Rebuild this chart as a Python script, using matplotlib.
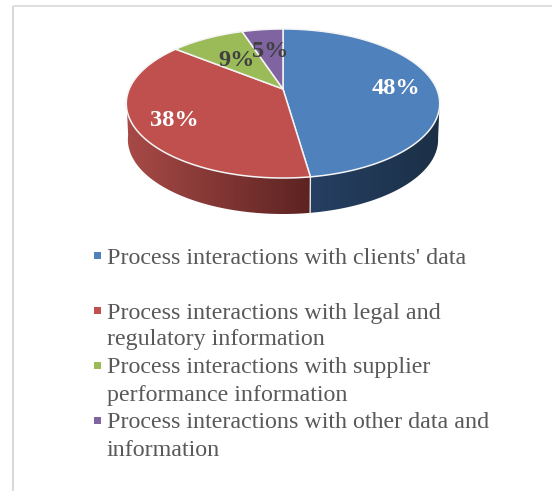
import numpy as np
import matplotlib
matplotlib.use("Agg")
import matplotlib.pyplot as plt
from matplotlib.colors import to_rgb
from matplotlib.patches import Polygon, Rectangle

categories = ["Process interactions with clients' data",
              "Process interactions with legal and\nregulatory information",
              "Process interactions with supplier\nperformance information",
              "Process interactions with other data and\ninformation"]
values = [47.7, 38.0, 9.2, 5.1]
top_colors = ["#4F81BD", "#C0504D", "#9BBB59", "#8064A2"]
wall_left = ["#263F63", "#A84A47", "#6B8040", "#58456F"]
wall_right = ["#1B3046", "#5C2321", "#4A5A2B", "#3D3050"]
label_colors = ["white", "white", "#404040", "#404040"]
label_pos = [(395.5, 88), (174.5, 120), (236.5, 60), (270.5, 51)]
legend_y = [256, 311, 366, 421]

W, H = 552, 491
FONT = 17.3
fig = plt.figure(figsize=(W / 100, H / 100), dpi=100)
ax = fig.add_axes([0, 0, 1, 1])

# chart frame
ax.add_patch(Rectangle((12, 5.5), 2, H, color="#D9D9D9", lw=0))
ax.plot([13, W], [6, 6], color="#D9D9D9", lw=1.2, solid_capstyle="butt")

# perspective mapping of the pie disc
CX, APEX, D, C, A = 283.0, 89.0, 153.7, 0.1946, -54.36
DEPTH, SHRINK = 36.0, 0.99


def top(theta):
    x, y = np.sin(theta), np.cos(theta)
    w = 1 + C * y
    return CX + D * x / w, (A * y + APEX) / w


def bottom(theta):
    sx, sy = top(theta)
    return CX + (sx - CX) * SHRINK, sy + DEPTH


fractions = np.array(values, float) / sum(values)
edges = np.concatenate([[0], np.cumsum(fractions)]) * 2 * np.pi
vis_start, vis_end = np.radians(100), np.radians(262)

# side wall: a horizontal gradient clipped to the wall outline
for i in range(len(values)):
    t0, t1 = max(edges[i], vis_start), min(edges[i + 1], vis_end)
    if t1 <= t0:
        continue
    ts = np.linspace(t0, t1, 200)
    tx, ty = top(ts)
    bx, by = bottom(ts)
    pts = np.column_stack([np.r_[tx, bx[::-1]], np.r_[ty, by[::-1]]])
    outline = Polygon(pts, closed=True, facecolor="none", edgecolor="none", transform=ax.transData)
    ax.add_patch(outline)
    cl, cr = np.array(to_rgb(wall_left[i])), np.array(to_rgb(wall_right[i]))
    f = np.linspace(0, 1, 256)[None, :, None]
    grad = cl[None, None, :] + (cr - cl)[None, None, :] * f
    im = ax.imshow(grad, extent=[pts[:, 0].min(), pts[:, 0].max(), pts[:, 1].max(), pts[:, 1].min()],
                   aspect="auto", zorder=2, interpolation="bilinear")
    im.set_clip_path(outline)

ax.set_xlim(0, W); ax.set_ylim(H, 0); ax.axis("off")

# seam on the wall
for e in edges[1:-1]:
    if vis_start < e < vis_end:
        p, q = top(e), bottom(e)
        ax.plot([p[0], q[0]], [p[1], q[1]], color="white", lw=1, alpha=.85, zorder=3)

# top surface
for i in range(len(values)):
    ts = np.linspace(edges[i], edges[i + 1], 200)
    xs, ys = top(ts)
    pts = np.column_stack([np.r_[CX, xs], np.r_[APEX, ys]])
    ax.add_patch(Polygon(pts, closed=True, facecolor=top_colors[i], edgecolor="#F4F4F4", lw=1.1, zorder=4))

serif = "Liberation Serif"
for v, c, (x, y) in zip(values, label_colors, label_pos):
    ax.text(x, y, f"{round(v)}%", color=c, ha="center", va="center", family=serif,
            weight="bold", fontsize=17.6, zorder=6)

for name, col, y in zip(categories, top_colors, legend_y):
    ax.add_patch(Rectangle((94, y - 4), 6.5, 7, color=col, lw=0, zorder=5))
    for k, line in enumerate(name.split("\n")):
        ax.text(107, y + 7.5 + 27 * k, line, color="#595959", family=serif, fontsize=FONT,
                ha="left", va="baseline", zorder=5)

fig.savefig("out.png", dpi=100)
